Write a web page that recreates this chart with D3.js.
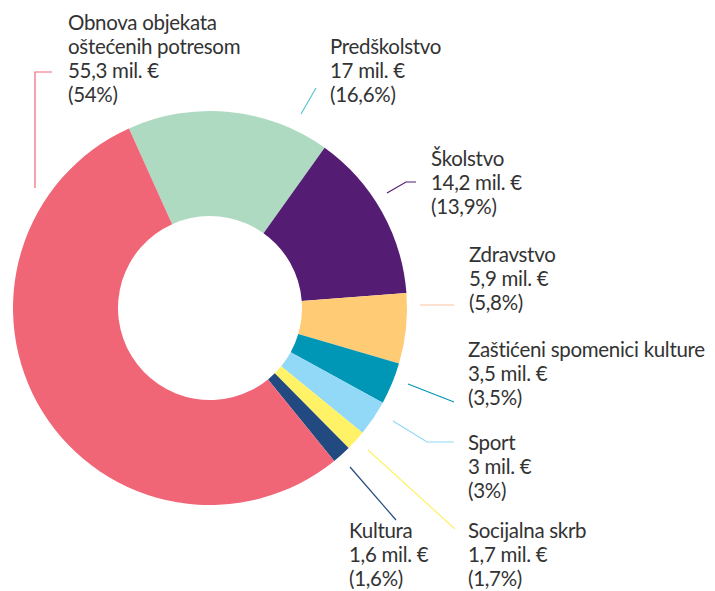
<!DOCTYPE html>
<html>
<head>
<meta charset="utf-8">
<script src="https://cdn.jsdelivr.net/npm/d3@7"></script>
<style>
  html, body { margin: 0; padding: 0; background: #fff; }
  svg { display: block; }
  text { font-family: "Lato", "Roboto", sans-serif; fill: #333; font-weight: 400; letter-spacing: -0.3px; }
</style>
</head>
<body>
<svg id="chart" width="715" height="591"></svg>
<script>
// Data (order as drawn clockwise)
const categories = ["Predškolstvo", "Školstvo", "Zdravstvo", "Zaštićeni spomenici kulture", "Sport", "Socijalna skrb", "Kultura", "Obnova objekata oštećenih potresom"];
const values = [17, 14.2, 5.9, 3.5, 3, 1.7, 1.6, 55.3];
const valueLabels = ["17 mil. €", "14,2 mil. €", "5,9 mil. €", "3,5 mil. €", "3 mil. €", "1,7 mil. €", "1,6 mil. €", "55,3 mil. €"];
const percentLabels = ["(16,6%)", "(13,9%)", "(5,8%)", "(3,5%)", "(3%)", "(1,7%)", "(1,6%)", "(54%)"];
const colors = ["#ADDAC1", "#541D73", "#FFCB75", "#0096B6", "#91D9F6", "#FFF266", "#234A80", "#F06677"];
const leaderColors = ["#5CC6CC", "#541D73", "#FBC4A0", "#0096B6", "#91D9F6", "#FFF266", "#234A80", "#F06677"];

// Layout
const cx = 210, cy = 308, R = 197, r = 92;
const startDeg = -24.3;
const lineH = 24;

const nameLines = [["Predškolstvo"], ["Školstvo"], ["Zdravstvo"], ["Zaštićeni spomenici kulture"], ["Sport"], ["Socijalna skrb"], ["Kultura"], ["Obnova objekata", "oštećenih potresom"]];
const labelPos = [[330, 54], [431, 166], [469, 262], [468, 357], [468, 450], [468, 538], [349, 538], [68, 30]];
const leaders = [
  [[316, 88], [301, 114]],
  [[387, 193], [406, 182], [416, 182]],
  [[420, 305], [454, 305]],
  [[408, 384], [454, 402]],
  [[393, 421], [427, 442], [454, 442]],
  [[368, 450], [455, 529]],
  [[350, 467], [396, 520]],
  [[52, 72], [35, 72], [35, 188]]
];

const svg = d3.select("#chart");
const data = categories.map((c, i) => ({ c, v: values[i], i }));

const pie = d3.pie().sort(null).value(d => d.v)
  .startAngle(startDeg * Math.PI / 180)
  .endAngle(startDeg * Math.PI / 180 + 2 * Math.PI);
const arc = d3.arc().innerRadius(r).outerRadius(R);

svg.append("g").attr("transform", `translate(${cx},${cy})`)
  .selectAll("path").data(pie(data)).join("path")
  .attr("d", arc)
  .attr("fill", d => colors[d.data.i]);

const line = d3.line();
svg.append("g").selectAll("path").data(leaders).join("path")
  .attr("d", d => line(d))
  .attr("fill", "none")
  .attr("stroke", (d, i) => leaderColors[i])
  .attr("stroke-width", 1.2);

const lg = svg.append("g");
data.forEach((d, i) => {
  const lines = nameLines[i].concat([valueLabels[i], percentLabels[i]]);
  const t = lg.append("text")
    .attr("x", labelPos[i][0]).attr("y", labelPos[i][1])
    .attr("font-size", 20.5);
  lines.forEach((s, k) => {
    t.append("tspan").attr("x", labelPos[i][0]).attr("dy", k === 0 ? 0 : lineH).text(s);
  });
});
</script>
</body>
</html>
